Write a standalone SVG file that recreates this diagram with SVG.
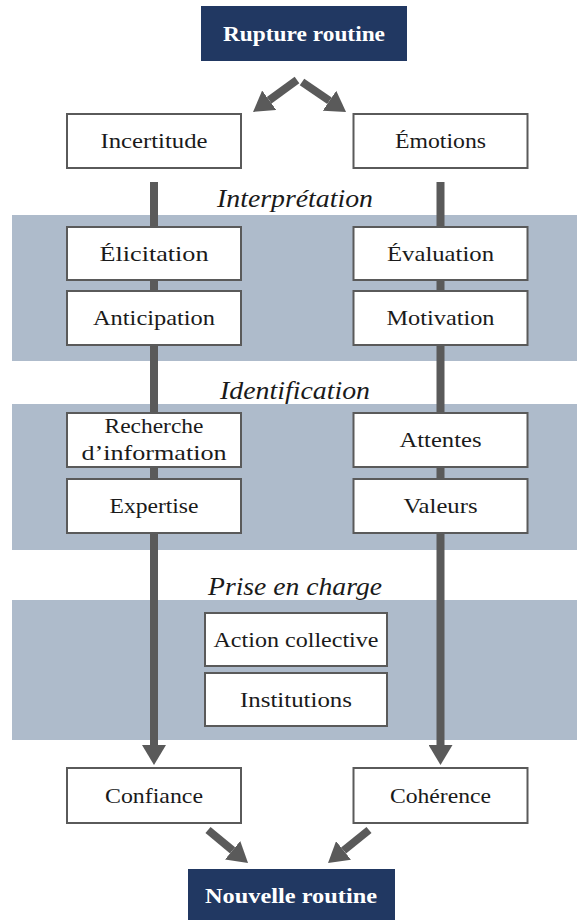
<svg xmlns="http://www.w3.org/2000/svg" width="577" height="920" viewBox="0 0 577 920">
<style>
  .band { fill: #aebbcb; }
  .box { fill: #ffffff; stroke: #5a5a5a; stroke-width: 2; }
  .navy { fill: #213862; }
  .t { font-family: "Liberation Serif", "Times New Roman", serif; font-size: 21px; fill: #1a1a1a; text-anchor: middle; }
  .tb { font-family: "Liberation Serif", "Times New Roman", serif; font-size: 21px; font-weight: bold; fill: #ffffff; text-anchor: middle; }
  .lab { font-family: "Liberation Serif", "Times New Roman", serif; font-size: 26px; font-style: italic; fill: #1a1a1a; text-anchor: middle; }
  .conn { stroke: #5a5a5a; stroke-width: 8; fill: none; marker-end: url(#head); }
</style>
<defs>
  <marker id="head" markerUnits="userSpaceOnUse" markerWidth="20" markerHeight="24" viewBox="0 0 20 24" refX="0" refY="12" orient="auto">
    <path d="M0,0 L20,12 L0,24 Z" fill="#5a5a5a"/>
  </marker>
</defs>
<rect width="577" height="920" fill="#ffffff"/>

<g id="bands">
  <rect class="band" x="12" y="215" width="565" height="146"/>
  <rect class="band" x="12" y="404" width="565" height="146"/>
  <rect class="band" x="12" y="600" width="565" height="140"/>
</g>

<g id="stage-labels">
  <text class="lab" x="295" y="207" textLength="156" lengthAdjust="spacingAndGlyphs">Interprétation</text>
  <text class="lab" x="295" y="399" textLength="150" lengthAdjust="spacingAndGlyphs">Identification</text>
  <text class="lab" x="295" y="595" textLength="174" lengthAdjust="spacingAndGlyphs">Prise en charge</text>
</g>

<g id="connectors">
  <line class="conn" x1="297" y1="80" x2="269.2" y2="100.2"/>
  <line class="conn" x1="302" y1="82" x2="329.5" y2="100.7"/>
  <line class="conn" x1="154" y1="182" x2="154" y2="745"/>
  <line class="conn" x1="440.5" y1="182" x2="440.5" y2="745"/>
  <line class="conn" x1="208" y1="830" x2="232.6" y2="850.3"/>
  <line class="conn" x1="369" y1="830" x2="343.6" y2="850.5"/>
</g>

<g id="rupture">
  <rect class="navy" x="201" y="6" width="206" height="55"/>
  <text class="tb" x="304" y="41" textLength="162" lengthAdjust="spacingAndGlyphs">Rupture routine</text>
</g>
<g id="incertitude">
  <rect class="box" x="67" y="114" width="174" height="54"/>
  <text class="t" x="154" y="148" textLength="107" lengthAdjust="spacingAndGlyphs">Incertitude</text>
</g>
<g id="emotions">
  <rect class="box" x="353.5" y="114" width="174" height="54"/>
  <text class="t" x="440.5" y="148" textLength="91" lengthAdjust="spacingAndGlyphs">Émotions</text>
</g>
<g id="elicitation">
  <rect class="box" x="67" y="227" width="174" height="53"/>
  <text class="t" x="154" y="261" textLength="109" lengthAdjust="spacingAndGlyphs">Élicitation</text>
</g>
<g id="anticipation">
  <rect class="box" x="67" y="291" width="174" height="54"/>
  <text class="t" x="154" y="325" textLength="122" lengthAdjust="spacingAndGlyphs">Anticipation</text>
</g>
<g id="evaluation">
  <rect class="box" x="353.5" y="227" width="174" height="53"/>
  <text class="t" x="440.5" y="261" textLength="107" lengthAdjust="spacingAndGlyphs">Évaluation</text>
</g>
<g id="motivation">
  <rect class="box" x="353.5" y="291" width="174" height="54"/>
  <text class="t" x="440.5" y="325" textLength="108" lengthAdjust="spacingAndGlyphs">Motivation</text>
</g>
<g id="recherche">
  <rect class="box" x="67" y="413" width="174" height="54"/>
  <text class="t" x="154" y="433" textLength="99" lengthAdjust="spacingAndGlyphs">Recherche</text>
  <text class="t" x="154" y="460" textLength="145" lengthAdjust="spacingAndGlyphs">d’information</text>
</g>
<g id="expertise">
  <rect class="box" x="67" y="479" width="174" height="54"/>
  <text class="t" x="154" y="513" textLength="89" lengthAdjust="spacingAndGlyphs">Expertise</text>
</g>
<g id="attentes">
  <rect class="box" x="353.5" y="413" width="174" height="54"/>
  <text class="t" x="440.5" y="447" textLength="82" lengthAdjust="spacingAndGlyphs">Attentes</text>
</g>
<g id="valeurs">
  <rect class="box" x="353.5" y="479" width="174" height="54"/>
  <text class="t" x="440.5" y="513" textLength="74" lengthAdjust="spacingAndGlyphs">Valeurs</text>
</g>
<g id="action-collective">
  <rect class="box" x="205" y="613" width="182" height="53"/>
  <text class="t" x="296" y="647" textLength="165" lengthAdjust="spacingAndGlyphs">Action collective</text>
</g>
<g id="institutions">
  <rect class="box" x="205" y="673" width="182" height="53"/>
  <text class="t" x="296" y="707" textLength="112" lengthAdjust="spacingAndGlyphs">Institutions</text>
</g>
<g id="confiance">
  <rect class="box" x="67" y="768" width="174" height="55"/>
  <text class="t" x="154" y="803" textLength="98" lengthAdjust="spacingAndGlyphs">Confiance</text>
</g>
<g id="coherence">
  <rect class="box" x="353.5" y="768" width="174" height="55"/>
  <text class="t" x="440.5" y="803" textLength="101" lengthAdjust="spacingAndGlyphs">Cohérence</text>
</g>
<g id="nouvelle">
  <rect class="navy" x="188" y="869" width="207" height="55"/>
  <text class="tb" x="291" y="903" textLength="172" lengthAdjust="spacingAndGlyphs">Nouvelle routine</text>
</g>
</svg>
